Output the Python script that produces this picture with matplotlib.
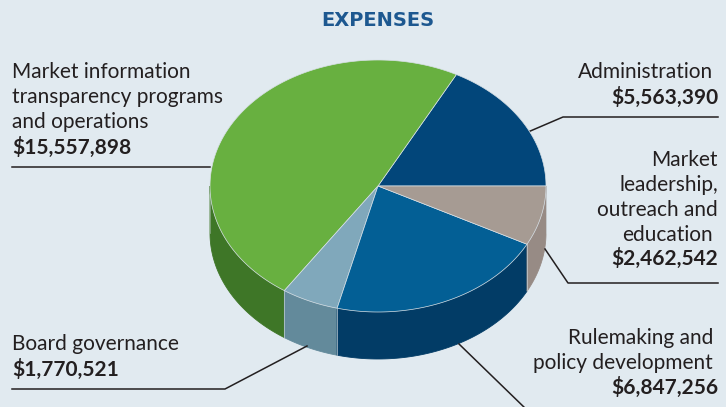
import numpy as np
import matplotlib.pyplot as plt
from matplotlib.patches import Polygon

# expenses data (order: counter-clockwise starting at 3 o'clock)
names = ['Administration', 'Market information transparency programs and operations',
         'Board governance', 'Rulemaking and policy development',
         'Market leadership, outreach and education']
values = [5563390, 15557898, 1770521, 6847256, 2462542]
top_colors = ['#02467a', '#68b040', '#80a8bb', '#035f95', '#a69b93']
side_colors = ['#01335a', '#3e7627', '#638a9b', '#023c66', '#978b85']

bg = '#e1eaf0'
cx, cy = 378, 186          # pie centre in pixels
rx, ry = 168, 126
depth = 47


def pt(t):
    return cx + rx * np.cos(t), cy - ry * np.sin(t)


fig = plt.figure(figsize=(7.26, 4.07), dpi=100, facecolor=bg)
ax = fig.add_axes([0, 0, 1, 1])
ax.set_xlim(0, 726)
ax.set_ylim(407, 0)
ax.axis('off')

fracs = np.array(values) / sum(values)
bounds = np.concatenate([[0], np.cumsum(fracs)]) * 2 * np.pi

# side walls (only the front half, pi..2pi, is visible)
for i in range(len(values)):
    a0, a1 = max(bounds[i], np.pi), min(bounds[i + 1], 2 * np.pi)
    if a1 <= a0:
        continue
    ts = np.linspace(a0, a1, 80)
    upper = [pt(t) for t in ts]
    lower = [(x, y + depth) for x, y in upper[::-1]]
    ax.add_patch(Polygon(upper + lower, closed=True, fc=side_colors[i],
                         ec=side_colors[i], lw=0.6, zorder=2))
    for t in (a0, a1):
        x, y = pt(t)
        ax.plot([x, x], [y, y + depth], color='#c9d3d9', lw=0.5, alpha=0.6, zorder=3)

# tops
for i in range(len(values)):
    ts = np.linspace(bounds[i], bounds[i + 1], 150)
    pts = [(cx, cy)] + [pt(t) for t in ts]
    ax.add_patch(Polygon(pts, closed=True, fc=top_colors[i], ec='#d7e0e6',
                         lw=0.5, zorder=4))

ax.text(378, 20, 'EXPENSES', ha='center', va='center', fontsize=14,
        fontweight='bold', color='#1d5890', family='DejaVu Sans')

txt = dict(fontsize=15, color='#231f20', family='Lato', va='center')
bold = dict(txt, fontweight='bold')
line = dict(color='#231f20', lw=1.1)

# left labels
for k, s in enumerate(['Market information', 'transparency programs', 'and operations']):
    ax.text(12, 72 + 25 * k, s, ha='left', **txt)
ax.text(12, 147, '$15,557,898', ha='left', **bold)
ax.plot([12, 210], [167, 167], **line)

ax.text(12, 344, 'Board governance', ha='left', **txt)
ax.text(12, 369, '$1,770,521', ha='left', **bold)
ax.plot([12, 225, 307], [389, 389, 346], **line)

# right labels
ax.text(713, 72, 'Administration', ha='right', **txt)
ax.text(718, 97, '$5,563,390', ha='right', **bold)
ax.plot([718, 563, 528], [117, 117, 132], **line)

for k, s in enumerate(['Market', 'leadership,', 'outreach and', 'education']):
    ax.text(718 if k < 3 else 713, 160 + 25 * k, s, ha='right', **txt)
ax.text(718, 258, '$2,462,542', ha='right', **bold)
ax.plot([718, 568, 545], [283, 283, 249], **line)

ax.text(713, 338, 'Rulemaking and', ha='right', **txt)
ax.text(713, 363, 'policy development', ha='right', **txt)
ax.text(718, 387, '$6,847,256', ha='right', **bold)
ax.plot([459, 527], [344, 410], **line)

fig.savefig('out.png', dpi=100, facecolor=bg)
